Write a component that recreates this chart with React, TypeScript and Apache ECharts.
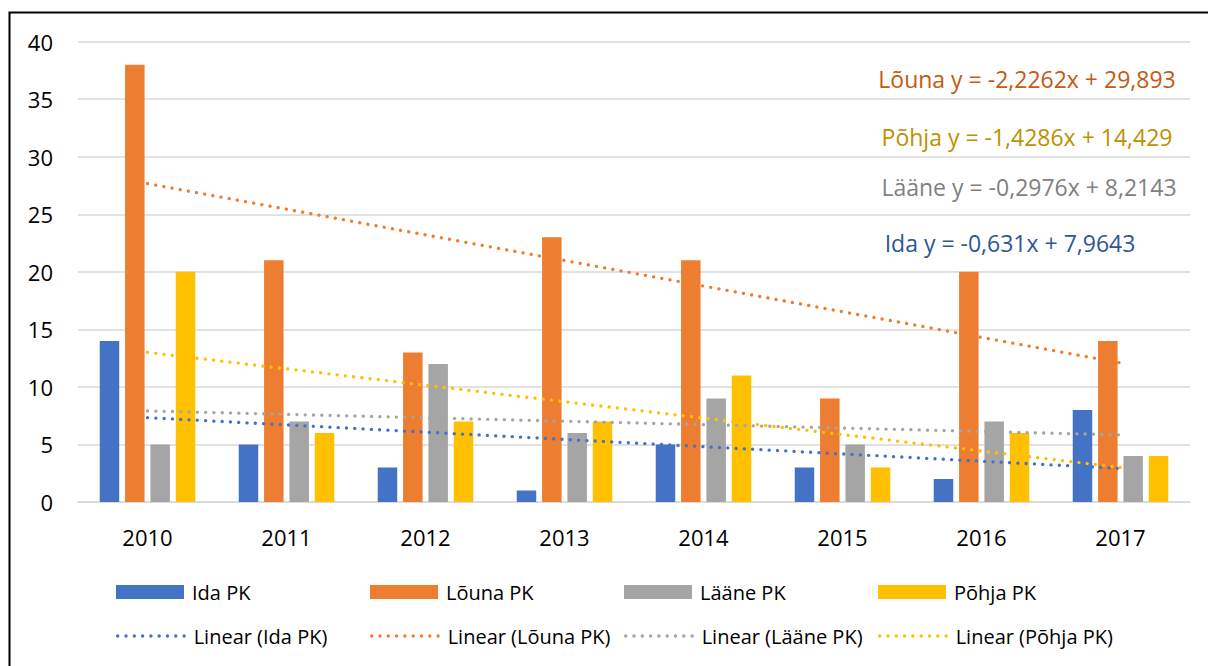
import React, { useEffect, useRef } from "react";
import * as echarts from "echarts";

const years = ["2010", "2011", "2012", "2013", "2014", "2015", "2016", "2017"];
const idaPK = [14, 5, 3, 1, 5, 3, 2, 8];
const lounaPK = [38, 21, 13, 23, 21, 9, 20, 14];
const laanePK = [5, 7, 12, 6, 9, 5, 7, 4];
const pohjaPK = [20, 6, 7, 7, 11, 3, 6, 4];

const seriesNames = ["Ida PK", "Lõuna PK", "Lääne PK", "Põhja PK"];
const seriesColors = ["#4472C4", "#ED7D31", "#A5A5A5", "#FFC000"];
// trendline coefficients as printed on the chart
const trendSlopes = [-0.631, -2.2262, -0.2976, -1.4286];
const trendIntercepts = [7.9643, 29.893, 8.2143, 14.429];
const trendLabels = [
  "Ida y = -0,631x + 7,9643",
  "Lõuna y = -2,2262x + 29,893",
  "Lääne y = -0,2976x + 8,2143",
  "Põhja y = -1,4286x + 14,429",
];
const trendLabelColors = ["#2F5597", "#C55A11", "#7F7F7F", "#BF9000"];

const FONT = "'Open Sans', Lato, sans-serif";

export default function App() {
  const ref = useRef<HTMLDivElement>(null);
  useEffect(() => {
    if (!ref.current) return;
    const chart = echarts.init(ref.current, null, { renderer: "svg" });
    const barData = [idaPK, lounaPK, laanePK, pohjaPK];
    const bars = barData.map((d, i) => ({
      name: seriesNames[i],
      type: "bar",
      data: d,
      barWidth: 19.5,
      barGap: "30%",
      itemStyle: { color: seriesColors[i] },
      z: 2,
    }));
    const lines = barData.map((_, i) => ({
      name: `Linear (${seriesNames[i]})`,
      type: "line",
      data: years.map((_, k) => +(trendIntercepts[i] + trendSlopes[i] * (k + 1)).toFixed(4)),
      symbol: "none",
      lineStyle: { color: seriesColors[i], width: 3.3, type: [0.1, 8.2], cap: "round" },
      itemStyle: { color: seriesColors[i] },
      z: 3,
    }));
    const legendLefts = [116, 370, 624, 878];
    const legends: any[] = [];
    seriesNames.forEach((n, i) => {
      legends.push({
        data: [{ name: n, icon: "rect" }],
        left: legendLefts[i],
        top: 582,
        padding: 0,
        itemWidth: 68,
        itemHeight: 14,
        selectedMode: false,
        textStyle: { fontFamily: FONT, fontSize: 20, color: "#000", padding: [0, 0, 0, 3] },
      });
      legends.push({
        data: [`Linear (${n})`],
        left: legendLefts[i],
        top: 626,
        padding: 0,
        itemWidth: 68,
        itemHeight: 14,
        selectedMode: false,
        itemStyle: { opacity: 0 },
        lineStyle: { width: 3.3, type: [0.1, 8.2], cap: "round", color: seriesColors[i] },
        textStyle: { fontFamily: FONT, fontSize: 20, color: "#000", padding: [0, 0, 0, 3] },
      });
    });
    const labelPos = [
      [1010, 243],
      [1027, 79],
      [1029, 187],
      [1027, 137],
    ];
    chart.setOption({
      animation: false,
      backgroundColor: "#fff",
      grid: { left: 78, right: 18, top: 41.7, bottom: 164, containLabel: false },
      xAxis: {
        type: "category",
        data: years,
        axisLine: { lineStyle: { color: "#D9D9D9", width: 1.5 } },
        axisTick: { show: false },
        axisLabel: { fontFamily: FONT, fontSize: 22, color: "#000", margin: 24 },
      },
      yAxis: {
        type: "value",
        min: 0,
        max: 40,
        interval: 5,
        axisLine: { show: false },
        axisTick: { show: false },
        splitLine: { lineStyle: { color: "#D9D9D9", width: 1.5 } },
        axisLabel: { fontFamily: FONT, fontSize: 22, color: "#000", margin: 25 },
      },
      legend: legends,
      series: [...bars, ...lines],
      graphic: [
        {
          type: "rect",
          shape: { x: 9.5, y: 12.5, width: 1400, height: 1000 },
          style: { fill: "none", stroke: "#000", lineWidth: 2 },
          silent: true,
        },
        ...trendLabels.map((t, i) => ({
          type: "text",
          x: labelPos[i][0],
          y: labelPos[i][1],
          style: {
            text: t,
            fill: trendLabelColors[i],
            fontFamily: FONT,
            fontSize: 23,
            textAlign: "center",
            textVerticalAlign: "middle",
          },
          z: 10,
        })),
      ],
    });
    return () => chart.dispose();
  }, []);
  return (
    <div
      ref={ref}
      style={{ position: "fixed", left: 0, top: 0, width: 1208, height: 666, background: "#fff" }}
    />
  );
}
